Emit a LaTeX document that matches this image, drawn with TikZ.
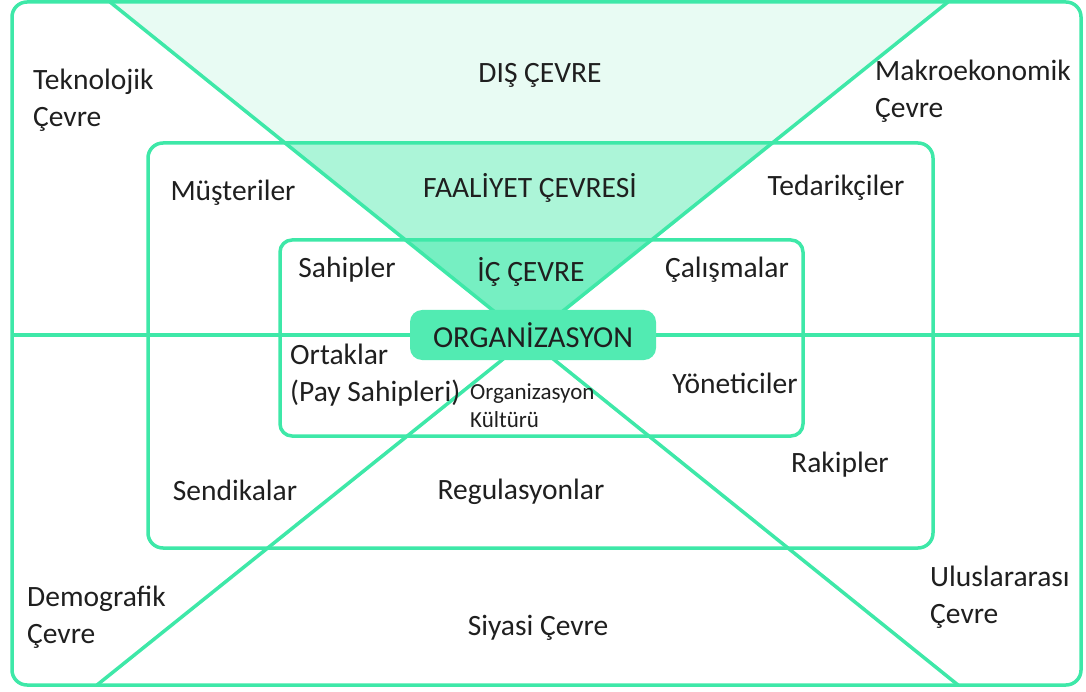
\documentclass[tikz,border=0pt]{standalone}
\usepackage{fontspec}
\setmainfont{Carlito}
\usepackage{tikz}
\definecolor{mint}{RGB}{62,232,168}
\definecolor{mintdark}{RGB}{82,235,178}
\definecolor{trione}{RGB}{232,251,243}
\definecolor{tritwo}{RGB}{172,245,216}
\definecolor{trithree}{RGB}{118,239,194}
\tikzstyle{frame}=[draw=mint,line width=3.5pt,rounded corners=15pt]
\tikzstyle{edge}=[draw=mint,line width=3.5pt]
\tikzstyle{lbl}=[text=black!88,font=\fontsize{29.5}{37}\selectfont,inner sep=0pt]
\tikzstyle{lblsmall}=[lbl,font=\fontsize{23}{28}\selectfont,align=left,anchor=west]
\tikzstyle{lbltwo}=[lbl,align=left,anchor=west]
\tikzstyle{orgbox}=[fill=mintdark,rounded corners=12pt,minimum width=246pt,minimum height=50pt,font=\fontsize{30.5}{36}\selectfont,text=black!88]

\begin{document}
\begin{tikzpicture}[x=1pt,y=-1pt]
    \useasboundingbox (0,0) rectangle (1086,692);
    % end points of the cross
    \coordinate (tl) at (110,2);
    \coordinate (tr) at (948,2);
    \coordinate (bl) at (97,685);
    \coordinate (br) at (958,685);
    \coordinate (hl) at (12,335);
    \coordinate (hr) at (1081,335);
    \coordinate (apex) at (intersection of tl--br and tr--bl);

    % shaded triangle, darker inside each box
    \fill[trione] (tl) -- (tr) -- (apex) -- cycle;
    \begin{scope}
        \clip[rounded corners=15pt] (148,143) rectangle (933,548);
        \fill[tritwo] (tl) -- (tr) -- (apex) -- cycle;
    \end{scope}
    \begin{scope}
        \clip[rounded corners=12pt] (280,240) rectangle (803,436);
        \fill[trithree] (tl) -- (tr) -- (apex) -- cycle;
    \end{scope}

    % the three boxes
    \draw[frame] (12,2) rectangle (1081,685);
    \draw[frame] (148,143) rectangle (933,548);
    \draw[frame,rounded corners=12pt] (280,240) rectangle (803,436);

    % cross lines
    \path[edge] (tl) -- (br);
    \path[edge] (tr) -- (bl);
    \path[edge] (hl) -- (hr);

    \node[orgbox] (org) at (533,335) {ORGANİZASYON};

    % one line labels
    \foreach \pos/\name/\txt in {{(540,75)/dis/DIŞ ÇEVRE}, {(530,188)/faaliyet/FAALİYET ÇEVRESİ}, {(233,193)/musteri/Müşteriler}, {(836,188)/tedarik/Tedarikçiler}, {(347,270)/sahip/Sahipler}, {(531,272)/ic/İÇ ÇEVRE}, {(727,270)/calisma/Çalışmalar}, {(735,383)/yonetici/Yöneticiler}, {(235,490)/sendika/Sendikalar}, {(521,492)/regul/Regulasyonlar}, {(840,465)/rakip/Rakipler}, {(538,628)/siyasi/Siyasi Çevre}}
        \node[lbl] (\name) at \pos {\txt};

    % two line labels
    \foreach \pos/\name/\txt in {{(33,100)/teknoloji/{Teknolojik\\Çevre}}, {(875,91)/makro/{Makroekonomik\\Çevre}}, {(290,375)/ortak/{Ortaklar\\(Pay Sahipleri)}}, {(27,617)/demografi/{Demografik\\Çevre}}, {(930,597)/ulus/{Uluslararası\\Çevre}}}
        \node[lbltwo] (\name) at \pos {\txt};
    \node[lblsmall] (kultur) at (470,406) {Organizasyon\\Kültürü};
\end{tikzpicture}
\end{document}
